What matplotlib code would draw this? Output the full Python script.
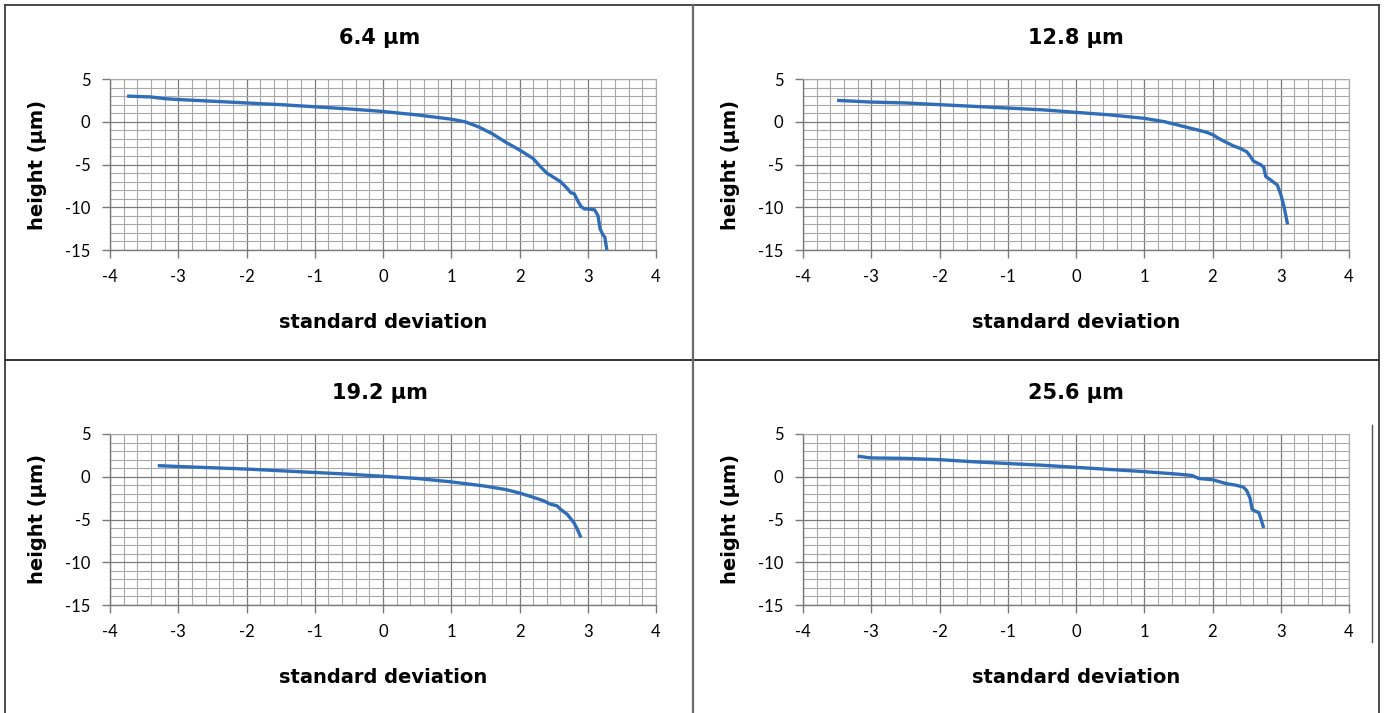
import matplotlib
matplotlib.use('Agg')
import matplotlib.pyplot as plt
from matplotlib.lines import Line2D
from matplotlib.ticker import MultipleLocator

plt.rcParams['axes.unicode_minus'] = False

# panel titles
titles = ['6.4 µm', '12.8 µm', '19.2 µm', '25.6 µm']

# 6.4 um
sd_64 = [-3.75, -3.4, -3.2, -3.0, -2.5, -2.0, -1.5, -1.0, -0.5, 0.0, 0.5, 0.8, 1.0, 1.2,
         1.4, 1.6, 1.8, 2.0, 2.2, 2.3, 2.4, 2.5, 2.6, 2.7, 2.75, 2.8, 2.85, 2.9, 2.95,
         3.0, 3.1, 3.15, 3.18, 3.22, 3.25, 3.28]
h_64 = [3.0, 2.9, 2.7, 2.6, 2.4, 2.2, 2.0, 1.75, 1.5, 1.2, 0.8, 0.5, 0.3, 0.0,
        -0.6, -1.4, -2.4, -3.3, -4.3, -5.2, -6.0, -6.5, -7.0, -7.8, -8.3, -8.4, -9.2, -9.9, -10.2,
        -10.2, -10.3, -11.0, -12.5, -13.2, -13.5, -15.0]

# 12.8 um
sd_128 = [-3.5, -3.0, -2.5, -2.0, -1.5, -1.0, -0.5, 0.0, 0.5, 1.0, 1.3, 1.5, 1.7, 1.9,
          2.0, 2.1, 2.2, 2.3, 2.4, 2.5, 2.55, 2.6, 2.65, 2.7, 2.75, 2.78, 2.85, 2.9, 2.95,
          3.0, 3.05, 3.1]
h_128 = [2.5, 2.3, 2.2, 2.0, 1.8, 1.6, 1.4, 1.1, 0.8, 0.4, 0.0, -0.4, -0.8, -1.2,
         -1.5, -2.0, -2.4, -2.8, -3.1, -3.5, -4.0, -4.6, -4.8, -5.0, -5.3, -6.4, -6.8, -7.1, -7.4,
         -8.5, -10.0, -12.0]

# 19.2 um
sd_192 = [-3.3, -3.0, -2.5, -2.0, -1.5, -1.0, -0.5, 0.0, 0.5, 1.0, 1.5, 1.8, 2.0, 2.2,
          2.35, 2.45, 2.55, 2.6, 2.7, 2.8, 2.85, 2.9]
h_192 = [1.3, 1.2, 1.05, 0.9, 0.7, 0.5, 0.3, 0.05, -0.2, -0.6, -1.1, -1.5, -1.9, -2.4,
         -2.8, -3.2, -3.4, -3.8, -4.4, -5.4, -6.2, -7.1]

# 25.6 um
sd_256 = [-3.2, -3.0, -2.5, -2.0, -1.5, -1.0, -0.5, 0.0, 0.5, 1.0, 1.5, 1.7, 1.8, 2.0,
          2.2, 2.35, 2.45, 2.5, 2.55, 2.58, 2.62, 2.68, 2.72, 2.75]
h_256 = [2.4, 2.2, 2.15, 2.0, 1.75, 1.55, 1.35, 1.1, 0.85, 0.6, 0.3, 0.15, -0.2, -0.35,
         -0.8, -1.0, -1.2, -1.6, -2.5, -3.8, -4.0, -4.2, -5.2, -6.0]

series = [(sd_64, h_64), (sd_128, h_128), (sd_192, h_192), (sd_256, h_256)]

W, H = 1387, 713
fig = plt.figure(figsize=(W / 100, H / 100), dpi=100)

lefts = [110, 803, 110, 803]
bottoms = [250, 250, 605, 605]
ax_w, ax_h = 546, 171
title_y = [38, 38, 393, 393]
title_x = [380, 1076, 380, 1076]

line_col = '#2f6db8'

for i, (xs, ys) in enumerate(series):
    ax = fig.add_axes([lefts[i] / W, 1 - bottoms[i] / H, ax_w / W, ax_h / H])
    ax.plot(xs, ys, color=line_col, lw=2.4, solid_capstyle='butt', zorder=3)
    ax.set_xlim(-4, 4)
    ax.set_ylim(-15, 5)
    ax.xaxis.set_major_locator(MultipleLocator(1))
    ax.xaxis.set_minor_locator(MultipleLocator(0.2))
    ax.yaxis.set_major_locator(MultipleLocator(5))
    ax.yaxis.set_minor_locator(MultipleLocator(1))
    ax.grid(which='minor', color='#a8a8a8', lw=0.8)
    ax.grid(which='major', color='#7a7a7a', lw=0.9)
    ax.set_axisbelow(True)
    for s in ['top', 'right']:
        ax.spines[s].set_color('#a8a8a8')
        ax.spines[s].set_linewidth(0.8)
    for s in ['left', 'bottom']:
        ax.spines[s].set_color('#7a7a7a')
        ax.spines[s].set_linewidth(1.0)
    ax.tick_params(which='major', direction='out', length=6, width=1, color='#7a7a7a',
                   labelsize=12, pad=8, labelfontfamily='Lato')
    ax.tick_params(which='minor', length=0)
    ax.set_xlabel('standard deviation', fontsize=14, fontweight='bold', labelpad=20)
    ax.set_ylabel('height (µm)', fontsize=14, fontweight='bold', labelpad=13)
    fig.text(title_x[i] / W, 1 - title_y[i] / H, titles[i], ha='center', va='center',
             fontsize=15, fontweight='bold')

# table borders
def hline(y, x0, x1, c='#3a3a3a', lw=1.3):
    fig.add_artist(Line2D([x0 / W, x1 / W], [1 - y / H, 1 - y / H], color=c, lw=lw))

def vline(x, y0, y1, c='#3a3a3a', lw=1.3):
    fig.add_artist(Line2D([x / W, x / W], [1 - y0 / H, 1 - y1 / H], color=c, lw=lw))

hline(5, 5, 1379)
hline(360, 5, 1379, c='#222222')
vline(5, 5, 713)
vline(1379, 5, 713)
vline(693, 5, 713, c='#6a6a6a', lw=1.6)
vline(1372, 425, 642, c='#555555', lw=1.0)

fig.savefig('out.png', dpi=100)
